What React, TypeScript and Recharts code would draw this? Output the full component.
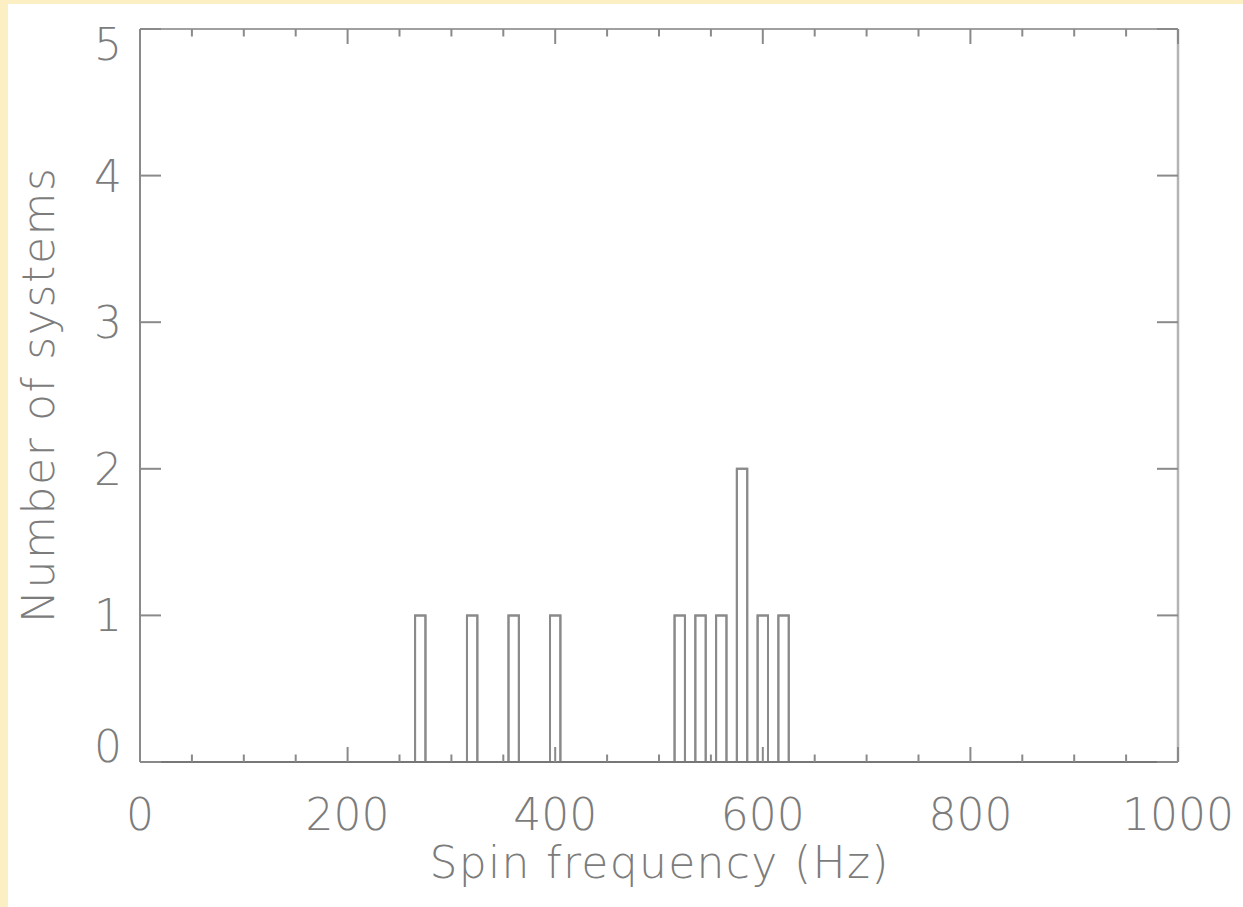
import { ComposedChart, Line, XAxis, YAxis } from 'recharts'

// histogram bins: centre of each 10 Hz bin and the number of systems in it
const binCentres = [270, 320, 360, 400, 520, 540, 560, 580, 600, 620]
const binCounts = [1, 1, 1, 1, 1, 1, 1, 2, 1, 1]
const BIN_WIDTH = 10

const xMajorTicks = [0, 200, 400, 600, 800, 1000]
const xMinorStep = 50
const yTicks = [0, 1, 2, 3, 4, 5]

const X_MAX = 1000
const Y_MAX = 5

const xTicks: number[] = []
for (let v = 0; v <= X_MAX; v += xMinorStep) xTicks.push(v)

// outline of the histogram, walked along the baseline from left to right
const outline: { x: number; y: number }[] = [{ x: 0, y: 0 }]
binCentres.forEach((c, i) => {
  const lo = c - BIN_WIDTH / 2
  const hi = c + BIN_WIDTH / 2
  outline.push({ x: lo, y: 0 }, { x: lo, y: binCounts[i] }, { x: hi, y: binCounts[i] }, { x: hi, y: 0 })
})
outline.push({ x: X_MAX, y: 0 })

const INK = '#8a8a8a'
const TEXT = '#7c7c7c'
const FONT = '"DejaVu Sans", sans-serif'
const FONT_SIZE = 44

const isMajorX = (v: number) => xMajorTicks.includes(v)

function BottomTick({ x, y, payload }: any) {
  const major = isMajorX(payload.value)
  return (
    <g>
      <line x1={x} x2={x} y1={y} y2={y - (major ? 15 : 7.5)} stroke={INK} strokeWidth={2} />
      {major && (
        <text x={x} y={y + 68} textAnchor="middle" fill={TEXT} fontFamily={FONT} fontWeight={200} fontSize={FONT_SIZE}>
          {payload.value}
        </text>
      )}
    </g>
  )
}

function TopTick({ x, y, payload }: any) {
  const major = isMajorX(payload.value)
  return <line x1={x} x2={x} y1={y} y2={y + (major ? 15 : 7.5)} stroke={INK} strokeWidth={2} />
}

function LeftTick({ x, y, payload }: any) {
  // the end labels are pulled inside the axis range
  const shift = payload.value === Y_MAX ? 15 : payload.value === 0 ? -16 : 0
  return (
    <g>
      <line x1={x} x2={x + 21} y1={y} y2={y} stroke={INK} strokeWidth={2} />
      <text x={x - 18} y={y + 16 + shift} textAnchor="end" fill={TEXT} fontFamily={FONT} fontWeight={200} fontSize={FONT_SIZE}>
        {payload.value}
      </text>
    </g>
  )
}

function RightTick({ x, y }: any) {
  return <line x1={x} x2={x - 21} y1={y} y2={y} stroke={INK} strokeWidth={2} />
}

function XTitle({ viewBox }: any) {
  const { x, y, width } = viewBox
  return (
    <text
      x={x + width / 2}
      y={y + 116}
      textAnchor="middle"
      textLength={459}
      lengthAdjust="spacing"
      fill={TEXT}
      fontFamily={FONT}
      fontWeight={200}
      fontSize={FONT_SIZE}
    >
      Spin frequency (Hz)
    </text>
  )
}

function YTitle({ viewBox }: any) {
  const { y, height } = viewBox
  const cx = 46
  const cy = y + height / 2
  return (
    <text
      x={cx}
      y={cy}
      transform={`rotate(-90 ${cx} ${cy})`}
      textAnchor="middle"
      textLength={455}
      lengthAdjust="spacing"
      fill={TEXT}
      fontFamily={FONT}
      fontWeight={200}
      fontSize={FONT_SIZE}
    >
      Number of systems
    </text>
  )
}

export default function App() {
  return (
    <div style={{ position: 'fixed', left: 0, top: 0, width: 1243, height: 907, background: '#fdefc4' }}>
      <div style={{ position: 'absolute', left: 8, top: 4, width: 1235, height: 903, background: '#ffffff' }}>
        <ComposedChart width={1235} height={903} data={outline} margin={{ top: 24, right: 64, bottom: 0, left: 0 }}>
          <XAxis
            xAxisId="bottom"
            dataKey="x"
            type="number"
            domain={[0, X_MAX]}
            ticks={xTicks}
            interval={0}
            height={145}
            tickSize={0}
            tickMargin={0}
            tick={<BottomTick />}
            axisLine={{ stroke: '#777777', strokeWidth: 2 }}
            label={<XTitle />}
          />
          <XAxis
            xAxisId="top"
            orientation="top"
            dataKey="x"
            type="number"
            domain={[0, X_MAX]}
            ticks={xTicks}
            interval={0}
            height={1}
            tickSize={0}
            tickMargin={0}
            tick={<TopTick />}
            axisLine={{ stroke: '#a0a0a0', strokeWidth: 2 }}
          />
          <YAxis
            yAxisId="left"
            type="number"
            domain={[0, Y_MAX]}
            ticks={yTicks}
            interval={0}
            width={132}
            tickSize={0}
            tickMargin={0}
            tick={<LeftTick />}
            axisLine={{ stroke: INK, strokeWidth: 2 }}
            label={<YTitle />}
          />
          <YAxis
            yAxisId="right"
            orientation="right"
            type="number"
            domain={[0, Y_MAX]}
            ticks={yTicks}
            interval={0}
            width={1}
            tickSize={0}
            tickMargin={0}
            tick={<RightTick />}
            axisLine={{ stroke: '#b4b4b4', strokeWidth: 2.5 }}
          />
          <Line
            xAxisId="bottom"
            yAxisId="left"
            dataKey="y"
            type="linear"
            stroke={INK}
            strokeWidth={2}
            dot={false}
            activeDot={false}
            isAnimationActive={false}
          />
          {/* same outline on the top/right axes, so those frame axes get drawn */}
          <Line
            xAxisId="top"
            yAxisId="right"
            dataKey="y"
            type="linear"
            stroke={INK}
            strokeWidth={2}
            dot={false}
            activeDot={false}
            isAnimationActive={false}
          />
        </ComposedChart>
      </div>
    </div>
  )
}
